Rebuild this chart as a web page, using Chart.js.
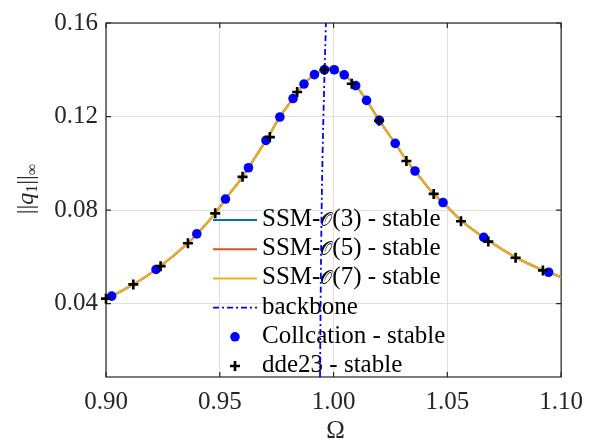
<!DOCTYPE html>
<html>
<head>
<meta charset="utf-8">
<script src="https://cdn.jsdelivr.net/npm/chart.js@4/dist/chart.umd.min.js"></script>
<style>
  html, body { margin: 0; padding: 0; background: #ffffff; }
  canvas { display: block; }
</style>
</head>
<body>
<canvas id="frc" width="593" height="441"></canvas>
<script>
// Forced response curve of the first modal amplitude near primary resonance.

// Axis ticks
const xTicks = [0.90, 0.95, 1.00, 1.05, 1.10];
const yTicks = [0.04, 0.08, 0.12, 0.16];

// SSM reduced-order prediction (orders 3, 5 and 7 coincide at this scale)
const omegaSSM = [0.9000, 0.9025, 0.9120, 0.9220, 0.9360, 0.9400, 0.9480, 0.9525, 0.9600, 0.9626,
                  0.9703, 0.9764, 0.9822, 0.9870, 0.9916, 0.9960, 0.9982, 1.0003, 1.0047, 1.0097,
                  1.0145, 1.0201, 1.0271, 1.0322, 1.0358, 1.0439, 1.0481, 1.0565, 1.0660, 1.0804,
                  1.0923, 1.0945, 1.1000];
const ampSSM3 = [0.0421, 0.0432, 0.0482, 0.0546, 0.0658, 0.0698, 0.0786, 0.0847, 0.0942, 0.0981,
                 0.1098, 0.1198, 0.1277, 0.1339, 0.1379, 0.1400, 0.1405, 0.1400, 0.1378, 0.1332,
                 0.1269, 0.1183, 0.1085, 0.1010, 0.0967, 0.0869, 0.0832, 0.0752, 0.0683, 0.0596,
                 0.0542, 0.0534, 0.0513];
const ampSSM5 = ampSSM3.slice();
const ampSSM7 = ampSSM3.slice();

// Backbone curve
const omegaBackbone = [0.99405, 0.99440, 0.99475, 0.99520, 0.99580, 0.99665];
const ampBackbone   = [0.0086, 0.0500, 0.0800, 0.1050, 0.1300, 0.1600];

// Collocation continuation
const omegaColl = [0.9025, 0.9220, 0.9399, 0.9525, 0.9626, 0.9703, 0.9764, 0.9822, 0.9870, 0.9916,
                   0.9960, 1.0003, 1.0047, 1.0097, 1.0145, 1.0201, 1.0271, 1.0358, 1.0481, 1.0660,
                   1.0945];
const ampColl   = [0.0432, 0.0546, 0.0698, 0.0847, 0.0981, 0.1098, 0.1198, 0.1277, 0.1339, 0.1379,
                   0.1400, 0.1400, 0.1378, 0.1332, 0.1269, 0.1184, 0.1085, 0.0967, 0.0832, 0.0683,
                   0.0534];

// dde23 time integration
const omegaDde = [0.900, 0.912, 0.924, 0.936, 0.948, 0.960, 0.972, 0.984, 0.996, 1.008,
                  1.020, 1.032, 1.044, 1.056, 1.068, 1.080, 1.092];
const ampDde   = [0.0421, 0.0482, 0.0560, 0.0658, 0.0786, 0.0942, 0.1112, 0.1305, 0.1400, 0.1340,
                  0.1182, 0.1010, 0.0869, 0.0752, 0.0665, 0.0596, 0.0542];

const xy = (xs, ys) => xs.map((x, i) => ({ x: x, y: ys[i] }));

const SERIF = '"Liberation Serif", "Times New Roman", serif';
const AXIS_COLOR = '#262626';

// Box around the axes with inward tick marks
const framePlugin = {
  id: 'frame',
  beforeDatasetsDraw(chart) {
    const { ctx, chartArea: a } = chart;
    const xs = chart.scales.x, ys = chart.scales.y;
    const L = 5;
    ctx.save();
    ctx.strokeStyle = AXIS_COLOR;
    ctx.lineWidth = 1.2;
    ctx.strokeRect(a.left, a.top, a.right - a.left, a.bottom - a.top);
    ctx.beginPath();
    xTicks.forEach(v => {
      const p = xs.getPixelForValue(v);
      ctx.moveTo(p, a.bottom); ctx.lineTo(p, a.bottom - L);
      ctx.moveTo(p, a.top);    ctx.lineTo(p, a.top + L);
    });
    yTicks.forEach(v => {
      const p = ys.getPixelForValue(v);
      ctx.moveTo(a.left, p);  ctx.lineTo(a.left + L, p);
      ctx.moveTo(a.right, p); ctx.lineTo(a.right - L, p);
    });
    ctx.stroke();
    ctx.restore();
  }
};

// Draws a label, setting the calligraphic O slightly smaller than the rest
function drawLabel(ctx, text, x, y) {
  const pieces = text.split('𝒪');
  const mainFont = '25px ' + SERIF;
  const calFont = '19px ' + SERIF;
  pieces.forEach((piece, k) => {
    ctx.font = mainFont;
    ctx.fillText(piece, x, y);
    x += ctx.measureText(piece).width;
    if (k < pieces.length - 1) {
      ctx.font = calFont;
      ctx.fillText('𝒪', x, y);
      x += ctx.measureText('𝒪').width;
    }
  });
}

// Legend inside the axes, without a background box
const legendPlugin = {
  id: 'insetLegend',
  beforeDatasetsDraw(chart) {
    const ctx = chart.ctx;
    const top = 220, step = 29.2;
    const x0 = 213, x1 = 257, textX = 262;
    ctx.save();
    chart.data.datasets.forEach((ds, i) => {
      const y = top + i * step;
      if (ds.showLine !== false) {
        ctx.strokeStyle = ds.borderColor;
        ctx.lineWidth = ds.borderWidth;
        ctx.setLineDash(ds.borderDash || []);
        ctx.beginPath();
        ctx.moveTo(x0, y); ctx.lineTo(x1, y);
        ctx.stroke();
        ctx.setLineDash([]);
      } else {
        ctx.fillStyle = ds.backgroundColor;
        ctx.strokeStyle = ds.borderColor;
        ctx.lineWidth = ds.borderWidth;
        Chart.helpers.drawPoint(ctx, {
          pointStyle: ds.pointStyle,
          radius: ds.pointRadius,
          borderWidth: ds.borderWidth
        }, (x0 + x1) / 2, y);
      }
      ctx.fillStyle = '#000000';
      ctx.textBaseline = 'alphabetic';
      ctx.textAlign = 'left';
      drawLabel(ctx, ds.label, textX, y + 6);
    });
    ctx.restore();
  }
};

// Axis titles: Omega below, ||q_1||_inf rotated on the left
const titlePlugin = {
  id: 'axisTitles',
  afterDraw(chart) {
    const ctx = chart.ctx;
    const a = chart.chartArea;
    ctx.save();
    ctx.fillStyle = AXIS_COLOR;
    ctx.font = '25px ' + SERIF;
    ctx.textAlign = 'center';
    ctx.textBaseline = 'alphabetic';
    ctx.fillText('Ω', (a.left + a.right) / 2 + 2, 438);

    const parts = [
      { t: '||', font: '24px ' + SERIF, dy: 0 },
      { t: 'q', font: 'italic 24px ' + SERIF, dy: 0 },
      { t: '1', font: '16px ' + SERIF, dy: 4 },
      { t: '||', font: '24px ' + SERIF, dy: 0 },
      { t: '∞', font: '16px ' + SERIF, dy: 4 }
    ];
    let total = 0;
    parts.forEach(p => { ctx.font = p.font; p.w = ctx.measureText(p.t).width; total += p.w; });
    ctx.translate(33, 189);
    ctx.rotate(-Math.PI / 2);
    ctx.textAlign = 'left';
    let x = -total / 2;
    parts.forEach(p => {
      ctx.font = p.font;
      ctx.fillText(p.t, x, p.dy);
      x += p.w;
    });
    ctx.restore();
  }
};

const lineSet = (label, data, color, order) => ({
  label: label,
  data: data,
  showLine: true,
  borderColor: color,
  backgroundColor: color,
  borderWidth: 2,
  pointRadius: 0,
  cubicInterpolationMode: 'monotone',
  order: order
});

new Chart(document.getElementById('frc'), {
  type: 'scatter',
  data: {
    datasets: [
      lineSet('SSM-𝒪(3) - stable', xy(omegaSSM, ampSSM3), '#0072BD', 6),
      lineSet('SSM-𝒪(5) - stable', xy(omegaSSM, ampSSM5), '#D95319', 5),
      lineSet('SSM-𝒪(7) - stable', xy(omegaSSM, ampSSM7), '#EDB120', 4),
      {
        label: 'backbone',
        data: xy(omegaBackbone, ampBackbone),
        showLine: true,
        borderColor: '#0000FF',
        backgroundColor: '#0000FF',
        borderWidth: 1.8,
        borderDash: [6, 3, 2, 3],
        pointRadius: 0,
        cubicInterpolationMode: 'monotone',
        order: 3
      },
      {
        label: 'Collcation - stable',
        data: xy(omegaColl, ampColl),
        showLine: false,
        pointStyle: 'circle',
        pointRadius: 4.8,
        borderWidth: 0,
        borderColor: '#0000FF',
        backgroundColor: '#0000FF',
        clip: false,
        order: 2
      },
      {
        label: 'dde23 - stable',
        data: xy(omegaDde, ampDde),
        showLine: false,
        pointStyle: 'cross',
        pointRadius: 5,
        borderWidth: 2.6,
        borderColor: '#000000',
        backgroundColor: '#000000',
        clip: false,
        order: 1
      }
    ]
  },
  options: {
    responsive: false,
    devicePixelRatio: 1,
    animation: false,
    events: [],
    layout: { padding: { top: 21, right: 26, left: 0, bottom: 0 } },
    plugins: {
      legend: { display: false },
      tooltip: { enabled: false }
    },
    scales: {
      x: {
        type: 'linear',
        min: 0.90,
        max: 1.10,
        afterFit(scale) { scale.height = 64; },
        afterBuildTicks(scale) { scale.ticks = xTicks.map(v => ({ value: v })); },
        grid: { color: '#dfdfdf', lineWidth: 1, drawTicks: false },
        border: { display: false },
        ticks: {
          padding: 10,
          color: AXIS_COLOR,
          font: { family: SERIF, size: 25 },
          maxRotation: 0,
          callback: v => v.toFixed(2)
        }
      },
      y: {
        type: 'linear',
        min: 0.0086,
        max: 0.16,
        afterFit(scale) { scale.width = 106; },
        afterBuildTicks(scale) { scale.ticks = yTicks.map(v => ({ value: v })); },
        grid: { color: '#dfdfdf', lineWidth: 1, drawTicks: false },
        border: { display: false },
        ticks: {
          padding: 8,
          color: AXIS_COLOR,
          font: { family: SERIF, size: 25 },
          callback: v => v.toFixed(2)
        }
      }
    }
  },
  plugins: [framePlugin, legendPlugin, titlePlugin]
});
</script>
</body>
</html>
